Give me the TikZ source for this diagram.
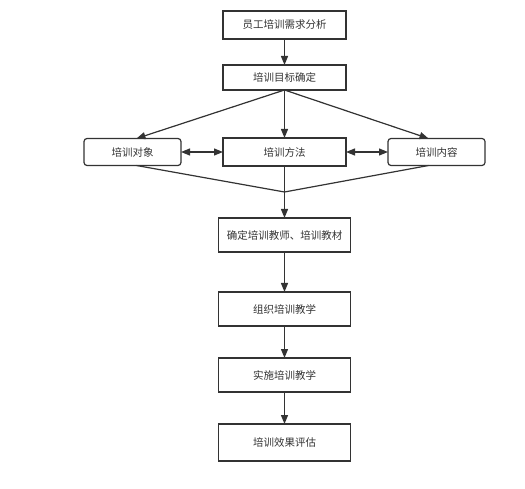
\documentclass[tikz,border=0pt]{standalone}
\usepackage{fontspec}
\setmainfont{Noto Sans CJK SC}
\usetikzlibrary{positioning,arrows.meta}
\definecolor{linegray}{HTML}{333333}

\begin{document}
\begin{tikzpicture}[
  node distance=26pt,
  box/.style={draw=linegray, align=center, minimum width=123pt, minimum height=27pt, inner sep=2pt, outer sep=0pt, line width=1.2pt},
  roundbox/.style={box, rounded corners=3pt, minimum width=97pt},
  bigbox/.style={box, minimum width=132pt, minimum height=34pt},
  arrow/.style={-{Triangle[length=9pt,width=7pt]}, draw=linegray, fill=linegray, line width=1.2pt},
  twoway/.style={{Triangle[length=9pt,width=7pt]}-{Triangle[length=9pt,width=7pt]}, draw=linegray, fill=linegray, line width=1.2pt},
  mergeline/.style={draw=linegray, line width=1.2pt},
  every node/.style={font=\fontsize{10.5}{12}\selectfont, text=linegray},
]
  \useasboundingbox (0,0) rectangle (525pt,-489pt);

  \node[box, minimum height=28pt] (need) at (284.5pt,-25pt) {员工培训需求分析};
  \node[box, minimum height=25pt, below=26pt of need] (goal) {培训目标确定};
  \node[box, minimum height=28pt, below=48pt of goal] (method) {培训方法};
  \node[roundbox, left=42pt of method] (object) {培训对象};
  \node[roundbox, right=42pt of method] (content) {培训内容};
  \coordinate[below=26pt of method] (merge);

  \node[bigbox, below=52pt of method] (teacher) {确定培训教师、培训教材};
  \node[bigbox, below=40pt of teacher] (organize) {组织培训教学};
  \node[bigbox, below=32pt of organize] (implement) {实施培训教学};
  \node[bigbox, minimum height=37pt, below=32pt of implement] (evaluate) {培训效果评估};

  \draw[arrow] (need) -- (goal);
  \draw[arrow] (goal.south) -- ([xshift=4pt]object.north);
  \draw[arrow] (goal) -- (method);
  \draw[arrow] (goal.south) -- ([xshift=-8pt]content.north);

  \draw[twoway] (object) -- (method);
  \draw[twoway] (method) -- (content);

  \draw[mergeline] ([xshift=4pt]object.south) -- (merge);
  \draw[mergeline] ([xshift=-8pt]content.south) -- (merge);
  \draw[mergeline] (method) -- (merge);
  \draw[arrow] (merge) -- (teacher);

  \draw[arrow] (teacher) -- (organize);
  \draw[arrow] (organize) -- (implement);
  \draw[arrow] (implement) -- (evaluate);
\end{tikzpicture}
\end{document}
